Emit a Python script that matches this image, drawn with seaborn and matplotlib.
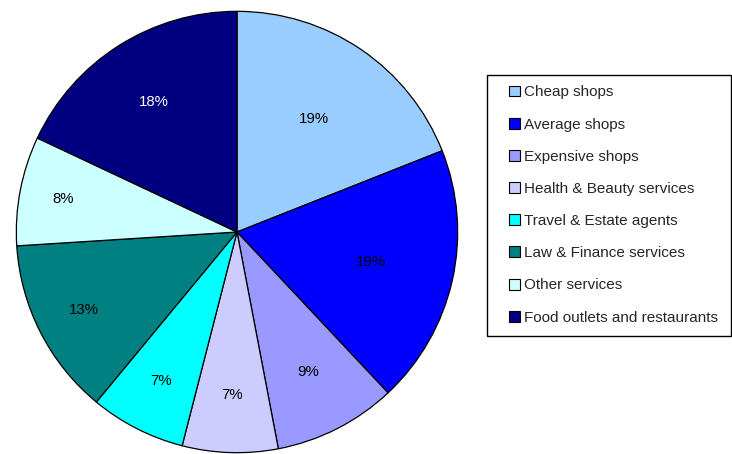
import numpy as np
import matplotlib
matplotlib.use("Agg")
import matplotlib.pyplot as plt
from matplotlib.patches import Rectangle
import seaborn as sns

categories = ["Cheap shops", "Average shops", "Expensive shops",
              "Health & Beauty services", "Travel & Estate agents",
              "Law & Finance services", "Other services",
              "Food outlets and restaurants"]
shares = [19, 19, 9, 7, 7, 13, 8, 18]
slice_colors = ["#99CCFF", "#0000FF", "#9999FF", "#CCCCFF",
                "#00FFFF", "#008080", "#CCFFFF", "#000080"]
label_colors = ["black", "black", "black", "black",
                "black", "black", "black", "white"]
label_radius = [0.62, 0.62, 0.71, 0.74, 0.76, 0.78, 0.80, 0.70]

sns.set_theme(style="white")
plt.rcParams["font.family"] = ["Liberation Sans", "DejaVu Sans"]

W, H = 732, 454
fig = plt.figure(figsize=(W / 100, H / 100), dpi=100)
cx, cy, r = 237, 232, 222
ax = fig.add_axes([(cx - r) / W, (H - cy - r) / H, 2 * r / W, 2 * r / H])

palette = sns.color_palette(slice_colors)
wedges, _ = ax.pie(shares, colors=palette, startangle=90, counterclock=False,
                   radius=1.0,
                   wedgeprops=dict(edgecolor="black", linewidth=0.9))
for w, val, col, rad in zip(wedges, shares, label_colors, label_radius):
    mid = np.deg2rad((w.theta1 + w.theta2) / 2)
    ax.text(rad * np.cos(mid), rad * np.sin(mid), f"{val}%",
            ha="center", va="center", fontsize=10.8, color=col)
ax.set_xlim(-1.006, 1.006)
ax.set_ylim(-1.006, 1.006)
ax.set_aspect("equal")
ax.axis("off")

# legend box drawn as a plain rectangle, entries placed inside it
box_l, box_t, box_r, box_b = 487, 75, 731, 336
fig.patches.append(Rectangle((box_l / W, 1 - box_b / H),
                             (box_r - box_l) / W, (box_b - box_t) / H,
                             transform=fig.transFigure, fill=False,
                             edgecolor="black", linewidth=1.0))

leg = fig.legend(wedges, categories, loc="center left",
                 bbox_to_anchor=(509 / W, 1 - ((box_t + box_b) / 2 - 0.5) / H),
                 frameon=False, fontsize=11,
                 handlelength=0.72, handleheight=0.72, handletextpad=0.28,
                 labelspacing=1.19, borderpad=0, borderaxespad=0)
for h in leg.legend_handles:
    h.set_edgecolor("black")
    h.set_linewidth(0.8)

fig.savefig("out.png", dpi=100)
